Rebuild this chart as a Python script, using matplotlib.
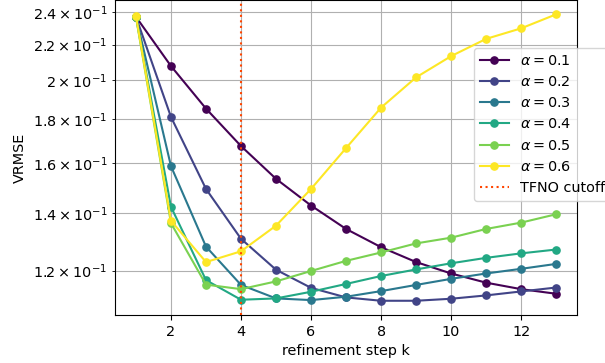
import numpy as np
import matplotlib
matplotlib.use("Agg")
import matplotlib.pyplot as plt

# refinement steps and VRMSE per alpha
steps = list(range(1, 14))
alphas = [0.1, 0.2, 0.3, 0.4, 0.5, 0.6]

vrmse_01 = [0.237, 0.2077, 0.1853, 0.1676, 0.1535, 0.1429, 0.1342, 0.1278, 0.1228, 0.1191, 0.1162, 0.1142, 0.1128]
vrmse_02 = [0.237, 0.1812, 0.1494, 0.1307, 0.1203, 0.1146, 0.1117, 0.1107, 0.1107, 0.1113, 0.1123, 0.1135, 0.1147]
vrmse_03 = [0.237, 0.1588, 0.1280, 0.1155, 0.1114, 0.1109, 0.1119, 0.1136, 0.1155, 0.1174, 0.1191, 0.1206, 0.1222]
vrmse_04 = [0.237, 0.1424, 0.1170, 0.1110, 0.1114, 0.1134, 0.1158, 0.1183, 0.1204, 0.1224, 0.1242, 0.1257, 0.1270]
vrmse_05 = [0.237, 0.1363, 0.1156, 0.1142, 0.1166, 0.1199, 0.1232, 0.1260, 0.1291, 0.1311, 0.1342, 0.1365, 0.1396]
vrmse_06 = [0.2375, 0.1372, 0.1228, 0.1264, 0.1354, 0.1494, 0.1667, 0.1858, 0.2015, 0.2133, 0.2234, 0.2298, 0.2386]
series = [vrmse_01, vrmse_02, vrmse_03, vrmse_04, vrmse_05, vrmse_06]

tfno_cutoff = 4

plt.rcParams['font.size'] = 10.4

fig = plt.figure(figsize=(6.05, 3.63), dpi=100)
ax = fig.add_axes([0.19, 0.132, 0.764, 0.868])

colors = plt.cm.viridis(np.linspace(0, 1, len(alphas)))
for a, vals, c in zip(alphas, series, colors):
    ax.plot(steps, vals, marker='o', ms=5.2, color=c, label=rf'$\alpha = {a}$')

ax.axvline(tfno_cutoff, color='orangered', linestyle=':', lw=1.5, label='TFNO cutoff')

ax.set_yscale('log')
ax.set_xlabel('refinement step k')
ax.set_ylabel('VRMSE')
ax.grid(True, which='both')

fig.legend(loc='upper left', bbox_to_anchor=(0.7835, 0.868), borderaxespad=0)

fig.savefig('out.png', dpi=100)
